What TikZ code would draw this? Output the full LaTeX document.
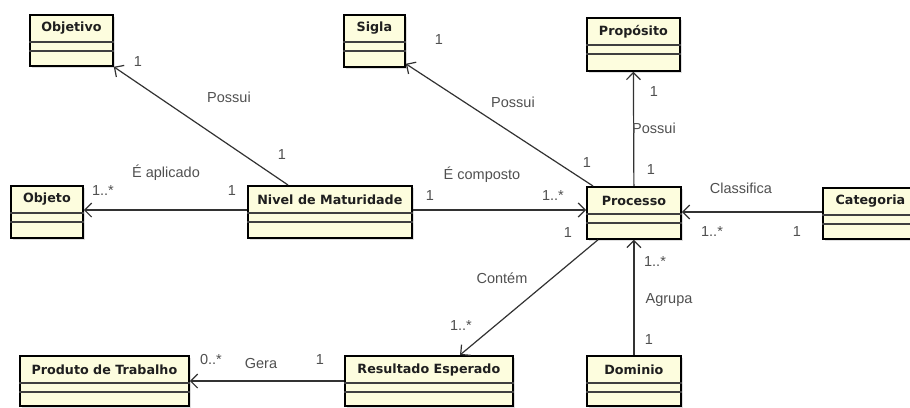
\documentclass[tikz,border=0pt]{standalone}
\usepackage{fontspec}
\setmainfont{Liberation Sans}
\newfontfamily\titlefont{DejaVu Sans}
\usetikzlibrary{arrows.meta,shadows,calc}
\definecolor{clsfill}{RGB}{253,253,222}
\definecolor{labcol}{RGB}{80,80,80}
\definecolor{linecol}{RGB}{50,50,50}
\tikzset{
  clsbox/.style={draw=black, line width=1.8pt, fill=clsfill, inner sep=0pt,
    drop shadow={opacity=0.25, shadow xshift=2pt, shadow yshift=-2pt}},
  clstitle/.style={font=\titlefont\bfseries\fontsize{12.7}{14}\selectfont, text=black!88, inner sep=0pt},
  comp/.style={draw=black!75, line width=1.1pt},
  assoc/.style={draw=linecol, line width=1.2pt, -{Straight Barb[length=7pt,width=14pt,line width=1.2pt]}},
  lab/.style={font=\fontsize{14.5}{16}\selectfont, text=labcol, inner sep=0pt}
}
\newcommand\umlcls[6]{%
  \node[clsbox, minimum width=#4pt, minimum height=#5pt, anchor=north west] (#1) at (#2,#3) {};
  \node[clstitle] (#1-t) at ([yshift=-14.5pt]#1.north) {#6};
  \draw[comp] ([yshift=-28pt]#1.north west) -- ([yshift=-28pt]#1.north east);
  \draw[comp] ([yshift=-37pt]#1.north west) -- ([yshift=-37pt]#1.north east);
}
\begin{document}
\begin{tikzpicture}[x=1pt,y=-1pt]
\useasboundingbox[fill=white] (0,0) rectangle (910,407);
% classes
\umlcls{objetivo}{29}{14}{83}{51}{Objetivo}
\umlcls{sigla}{343}{14}{61}{52}{Sigla}
\umlcls{prop}{586}{17}{93}{53}{Propósito}
\umlcls{objeto}{10}{185}{72}{52}{Objeto}
\umlcls{niv}{247}{185}{164}{52}{Nivel de Maturidade}
\umlcls{proc}{586}{186}{94}{52}{Processo}
\umlcls{cat}{822}{187}{95}{51}{Categoria}
\umlcls{prod}{19}{355}{169}{50}{Produto de Trabalho}
\umlcls{res}{344}{355}{168}{50}{Resultado Esperado}
\umlcls{dom}{586}{355}{94}{50}{Dominio}
% connectors
\draw[assoc] ([xshift=41pt]niv.north west) -- (objetivo.south east);
\draw[assoc] ([yshift=-25pt]niv.north west) -- ([yshift=-25pt]objeto.north east);
\draw[assoc] ([yshift=-25pt]niv.north east) -- ([yshift=-24pt]proc.north west);
\draw[assoc] ([xshift=7pt]proc.north west) -- ([yshift=4pt]sigla.south east);
\draw[assoc] (proc.north) -- (prop.south);
\draw[assoc] ([yshift=-25pt]cat.north west) -- ([yshift=-26pt]proc.north east);
\draw[assoc] ([xshift=12pt]proc.south west) -- ([xshift=116pt]res.north west);
\draw[assoc] (dom.north) -- (proc.south);
\draw[assoc] ([yshift=-26pt]res.north west) -- ([yshift=-26pt]prod.north east);
% labels
\node[lab] (l1) at (138,62) {1};
\node[lab] (l2) at (229,97) {Possui};
\node[lab] (l3) at (282,155) {1};
\node[lab] (l4) at (166,173) {É aplicado};
\node[lab] (l5) at (103,191) {1..*};
\node[lab] (l6) at (232,191) {1};
\node[lab] (l7) at (439,40) {1};
\node[lab] (l8) at (513,102) {Possui};
\node[lab] (l9) at (587,163) {1};
\node[lab] (l10) at (482,175) {É composto};
\node[lab] (l11) at (430,196) {1};
\node[lab] (l12) at (553,196) {1..*};
\node[lab] (l13) at (568,233) {1};
\node[lab] (l14) at (654,92) {1};
\node[lab] (l15) at (654,128) {Possui};
\node[lab] (l16) at (651,170) {1};
\node[lab] (l17) at (741,188) {Classifica};
\node[lab] (l18) at (712,232) {1..*};
\node[lab] (l19) at (797,232) {1};
\node[lab] (l20) at (655,262) {1..*};
\node[lab] (l21) at (669,300) {Agrupa};
\node[lab] (l22) at (649,340) {1};
\node[lab] (l23) at (502,278) {Contém};
\node[lab] (l24) at (461,326) {1..*};
\node[lab] (l25) at (211,360) {0..*};
\node[lab] (l26) at (261,364) {Gera};
\node[lab] (l27) at (320,360) {1};
\end{tikzpicture}
\end{document}
